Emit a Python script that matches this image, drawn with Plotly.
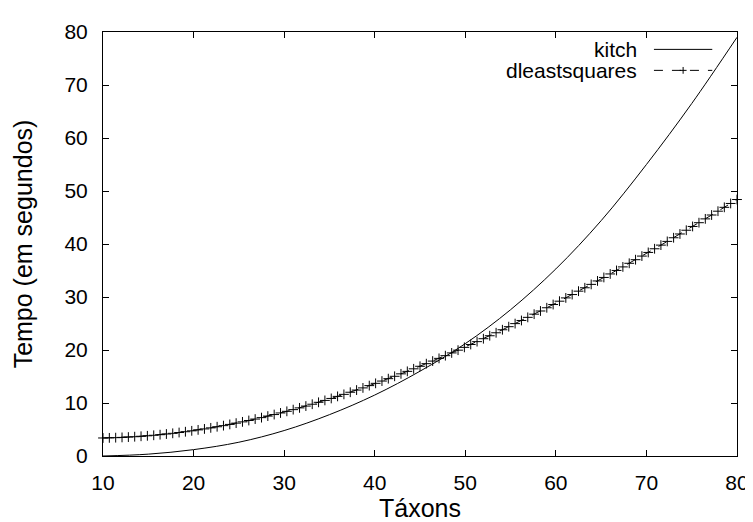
import plotly.graph_objects as go

# kitch timings (smooth curve)
taxa_kitch = [10, 15, 20, 25, 30, 35, 40, 45, 50, 55, 60, 65, 70, 75, 80]
time_kitch = [0.0, 0.35, 1.2, 2.6, 4.8, 7.8, 11.5, 16.0, 21.2, 27.6, 35.3, 44.4, 55.0, 66.5, 79.0]

# dleastsquares timings (linespoints)
taxa_dls = [10.0, 10.7, 11.4, 12.1, 12.8, 13.5, 14.2, 14.9, 15.6, 16.3,
            17.0, 17.7, 18.4, 19.1, 19.8, 20.5, 21.2, 21.9, 22.6, 23.3,
            24.0, 24.7, 25.4, 26.1, 26.8, 27.5, 28.2, 28.9, 29.6, 30.3,
            31.0, 31.7, 32.4, 33.1, 33.8, 34.5, 35.2, 35.9, 36.6, 37.3,
            38.0, 38.7, 39.4, 40.1, 40.8, 41.5, 42.2, 42.9, 43.6, 44.3,
            45.0, 45.7, 46.4, 47.1, 47.8, 48.5, 49.2, 49.9, 50.6, 51.3,
            52.0, 52.7, 53.4, 54.1, 54.8, 55.5, 56.2, 56.9, 57.6, 58.3,
            59.0, 59.7, 60.4, 61.1, 61.8, 62.5, 63.2, 63.9, 64.6, 65.3,
            66.0, 66.7, 67.4, 68.1, 68.8, 69.5, 70.2, 70.9, 71.6, 72.3,
            73.0, 73.7, 74.4, 75.1, 75.8, 76.5, 77.2, 77.9, 78.6, 79.3,
            80.0]
time_dls = [3.40, 3.42, 3.46, 3.51, 3.57, 3.64, 3.72, 3.81, 3.91, 4.02,
            4.15, 4.28, 4.43, 4.58, 4.75, 4.93, 5.11, 5.31, 5.52, 5.73,
            5.96, 6.20, 6.44, 6.70, 6.97, 7.24, 7.53, 7.82, 8.12, 8.43,
            8.75, 9.08, 9.42, 9.77, 10.13, 10.49, 10.86, 11.25, 11.63, 12.03,
            12.44, 12.85, 13.28, 13.71, 14.14, 14.59, 15.04, 15.50, 15.97, 16.45,
            16.93, 17.42, 17.91, 18.42, 18.93, 19.45, 19.97, 20.50, 21.04, 21.58,
            22.13, 22.69, 23.25, 23.82, 24.40, 24.98, 25.57, 26.16, 26.76, 27.36,
            27.97, 28.58, 29.21, 29.83, 30.46, 31.10, 31.74, 32.38, 33.03, 33.69,
            34.35, 35.01, 35.68, 36.36, 37.04, 37.72, 38.41, 39.10, 39.79, 40.49,
            41.18, 41.89, 42.60, 43.31, 44.02, 44.74, 45.47, 46.19, 46.92, 47.65,
            48.39]

x_ticks = [10, 20, 30, 40, 50, 60, 70, 80]
y_ticks = [0, 10, 20, 30, 40, 50, 60, 70, 80]
series_names = ["kitch", "dleastsquares"]

FONT = "Liberation Sans, Arial, Helvetica, sans-serif"

fig = go.Figure()
fig.add_trace(go.Scatter(
    x=taxa_kitch, y=time_kitch, mode="lines", name=series_names[0],
    line=dict(color="black", width=1, shape="spline", smoothing=1.0),
    showlegend=False))
fig.add_trace(go.Scatter(
    x=taxa_dls, y=time_dls, mode="lines+markers", name=series_names[1],
    line=dict(color="black", width=1, dash="dash"),
    marker=dict(symbol="cross-thin", size=7, line=dict(color="black", width=1)),
    showlegend=False, cliponaxis=False))

# legend drawn gnuplot-style: text right-aligned, sample to the right
leg_text_x = 0.846
leg_x0, leg_x1 = 0.869, 0.961
leg_y = [0.959, 0.9095]
for name, yy in zip(series_names, leg_y):
    fig.add_annotation(x=leg_text_x, y=yy, xref="paper", yref="paper",
                       text=name, showarrow=False, xanchor="right", yanchor="middle",
                       font=dict(family=FONT, size=21, color="black"))
fig.add_shape(type="line", xref="paper", yref="paper",
              x0=leg_x0, x1=leg_x1, y0=leg_y[0], y1=leg_y[0],
              line=dict(color="black", width=1))
fig.add_shape(type="line", xref="paper", yref="paper",
              x0=leg_x0, x1=leg_x1, y0=leg_y[1], y1=leg_y[1],
              line=dict(color="black", width=1, dash="dash"))
xm = (leg_x0 + leg_x1) / 2
fig.add_shape(type="line", xref="paper", yref="paper",
              x0=xm - 0.0055, x1=xm + 0.0055, y0=leg_y[1], y1=leg_y[1],
              line=dict(color="black", width=1))
fig.add_shape(type="line", xref="paper", yref="paper",
              x0=xm, x1=xm, y0=leg_y[1] - 0.008, y1=leg_y[1] + 0.008,
              line=dict(color="black", width=1))

axis_common = dict(
    showgrid=False, zeroline=False, showline=True, linecolor="black", linewidth=1,
    mirror="allticks", ticks="inside", ticklen=6, tickwidth=1, tickcolor="black",
    tickfont=dict(family=FONT, size=21, color="black"),
)

fig.update_xaxes(range=[10, 80], tickvals=x_ticks, ticktext=[str(v) for v in x_ticks],
                 ticklabelstandoff=8,
                 title=dict(text="Táxons", font=dict(family=FONT, size=25, color="black"),
                            standoff=6),
                 **axis_common)
fig.update_yaxes(range=[0, 80], tickvals=y_ticks, ticktext=[str(v) for v in y_ticks],
                 ticklabelstandoff=10,
                 title=dict(text="Tempo (em segundos)",
                            font=dict(family=FONT, size=25, color="black"), standoff=24),
                 **axis_common)

fig.update_layout(
    width=753, height=522,
    margin=dict(l=95, r=16, t=17, b=63, pad=0),
    plot_bgcolor="white", paper_bgcolor="white",
    showlegend=False,
)

fig.write_html("out.html")
